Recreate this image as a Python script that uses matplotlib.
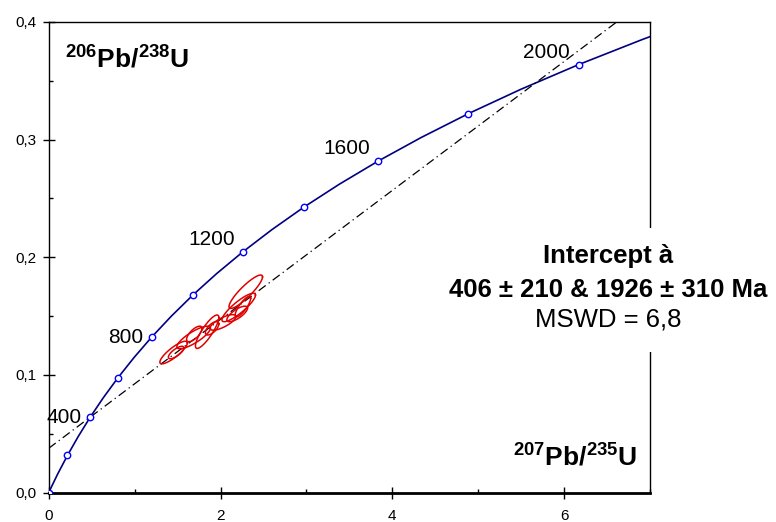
import numpy as np
import matplotlib
matplotlib.use("Agg")
import matplotlib.pyplot as plt
from matplotlib.patches import Rectangle
from matplotlib.ticker import MultipleLocator, FuncFormatter

plt.rcParams['font.family'] = ['Liberation Sans', 'DejaVu Sans']
plt.rcParams['mathtext.fontset'] = 'custom'
plt.rcParams['mathtext.rm'] = 'Liberation Sans'
plt.rcParams['mathtext.bf'] = 'Liberation Sans:bold'

# concordia curve, 100 Ma steps (207Pb/235U, 206Pb/238U)
conc_x = [0.0, 0.1035, 0.2177, 0.3437, 0.4828, 0.6362, 0.8056, 0.9926, 1.1987,
          1.4263, 1.6774, 1.9545, 2.2603, 2.5978, 2.9701, 3.3810, 3.8344,
          4.3348, 4.8869, 5.4962, 6.1685, 6.9105, 7.1477]
conc_y = [0.0, 0.01563, 0.03151, 0.04764, 0.06406, 0.08065, 0.09754, 0.11470,
          0.13213, 0.14983, 0.16782, 0.18606, 0.20460, 0.22343, 0.24257,
          0.26198, 0.28171, 0.30174, 0.32211, 0.34276, 0.36375, 0.38509, 0.39155]

# age markers (Ma) every 200 Ma
mark_age = [0, 200, 400, 600, 800, 1000, 1200, 1400, 1600, 1800, 2000]
mark_x = [0.0, 0.2177, 0.4828, 0.8056, 1.1987, 1.6774, 2.2603, 2.9701, 3.8344, 4.8869, 6.1685]
mark_y = [0.0, 0.03151, 0.06406, 0.09754, 0.13213, 0.16782, 0.20460, 0.24257, 0.28171, 0.32211, 0.36375]
label_ages = [400, 800, 1200, 1600, 2000]

# discordia line end points
disc_x = [0.0, 7.0]
disc_y = [0.0376, 0.4212]

# analyses: centre x, centre y, half-width x, half-width y, correlation
ell_cx = [2.294, 2.212, 2.194, 2.028, 1.844, 1.695, 1.687, 1.454, 1.483, 1.902, 2.261]
ell_cy = [0.1707, 0.1573, 0.1518, 0.1446, 0.1367, 0.1348, 0.1318, 0.1190, 0.1190, 0.1396, 0.1580]
ell_sx = [0.195, 0.195, 0.120, 0.150, 0.136, 0.090, 0.195, 0.160, 0.090, 0.078, 0.090]
ell_sy = [0.0142, 0.0121, 0.0066, 0.0066, 0.0142, 0.0066, 0.0096, 0.0096, 0.0053, 0.0057, 0.0087]
ell_rho = [0.89, 0.87, 0.75, 0.75, 0.85, 0.70, 0.82, 0.85, 0.75, 0.65, 0.82]

fig = plt.figure(figsize=(7.76, 5.22), dpi=100)
ax = fig.add_axes([0.0628, 0.0565, 0.7748, 0.9014])

ax.plot(conc_x, conc_y, color='#000080', lw=1.2, zorder=2)
ax.plot(mark_x, mark_y, 'o', ms=4.6, mfc='white', mec='#0000ff', mew=1.0, zorder=3)
ax.plot(disc_x, disc_y, color='black', lw=0.9, ls=(0, (7, 3, 1, 3)), zorder=2)

t = np.linspace(0, 2 * np.pi, 100)
for cx, cy, sx, sy, r in zip(ell_cx, ell_cy, ell_sx, ell_sy, ell_rho):
    ex = cx + sx * np.cos(t)
    ey = cy + sy * (r * np.cos(t) + np.sqrt(1 - r ** 2) * np.sin(t))
    ax.plot(ex, ey, color='#e00000', lw=1.1, zorder=4)

for a in label_ages:
    i = mark_age.index(a)
    dy = 0 if a < 1000 else 9
    ax.annotate(str(a), (mark_x[i], mark_y[i]), xytext=(-6, dy), textcoords='offset points',
                ha='right', va='center', fontsize=15)

ax.set_xlim(0, 7)
ax.set_ylim(0, 0.4)
ax.xaxis.set_major_locator(MultipleLocator(2))
ax.xaxis.set_minor_locator(MultipleLocator(1))
ax.yaxis.set_major_locator(MultipleLocator(0.1))
ax.yaxis.set_minor_locator(MultipleLocator(0.05))
ax.yaxis.set_major_formatter(FuncFormatter(lambda v, p: f"{v:.1f}".replace('.', ',')))
ax.tick_params(which='major', direction='inout', length=8, width=1, labelsize=11)
ax.tick_params(axis='x', which='major', pad=8)
ax.tick_params(axis='y', which='major', pad=5)
ax.tick_params(which='minor', direction='in', length=3, width=1)
for s in ['left', 'top', 'right']:
    ax.spines[s].set_linewidth(1.0)
ax.spines['bottom'].set_linewidth(2.0)

ax.text(0.027, 0.902, r'$\mathbf{^{206}Pb/^{238}U}$', transform=ax.transAxes,
        fontsize=19, ha='left', va='baseline')
ax.text(0.979, 0.057, r'$\mathbf{^{207}Pb/^{235}U}$', transform=ax.transAxes,
        fontsize=19, ha='right', va='baseline')

# white patch hiding the right frame behind the result text
fig.patches.append(Rectangle((0.554, 0.3257), 0.446, 0.2375, transform=fig.transFigure,
                             facecolor='white', edgecolor='none', zorder=3))
tx = 608 / 776
fig.text(tx, 1 - 263 / 522, 'Intercept à', ha='center', va='baseline',
         fontsize=18.5, fontweight='bold', zorder=4)
fig.text(tx, 1 - 297 / 522, '406 ± 210 & 1926 ± 310 Ma', ha='center', va='baseline',
         fontsize=18.5, fontweight='bold', zorder=4)
fig.text(tx, 1 - 326 / 522, 'MSWD = 6,8', ha='center', va='baseline',
         fontsize=18.5, zorder=4)

fig.savefig('out.png', dpi=100)
